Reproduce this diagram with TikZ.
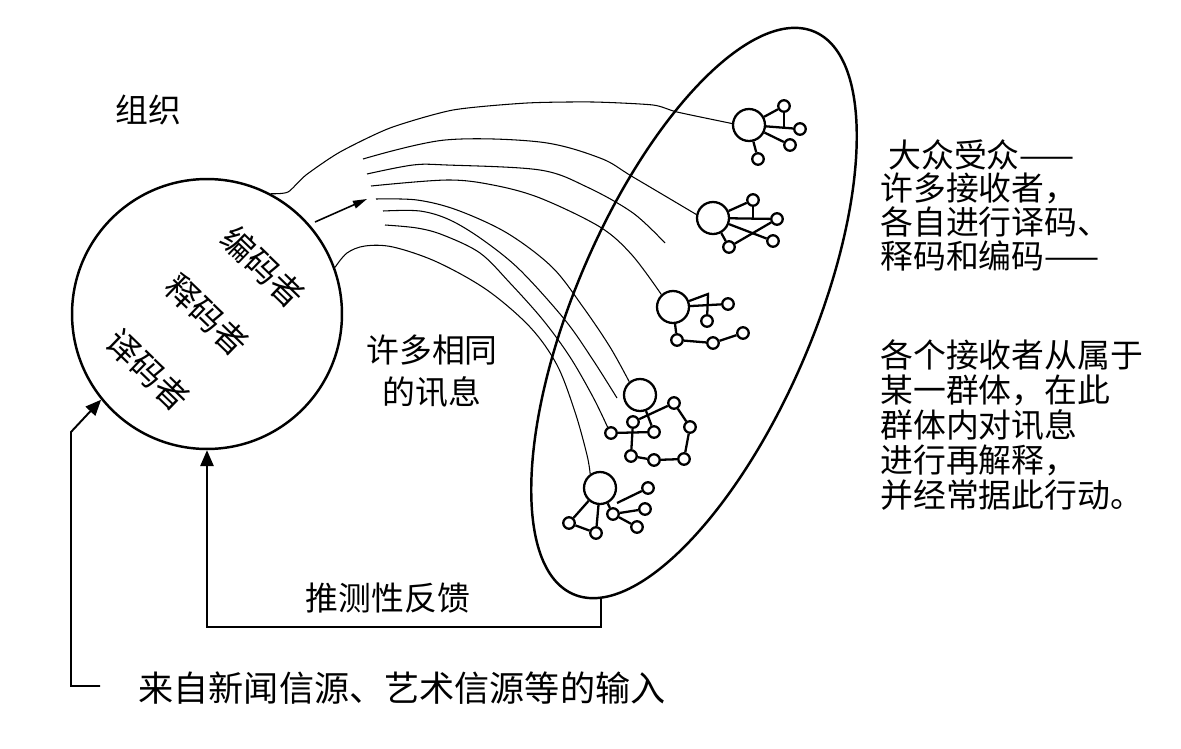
\documentclass[tikz,border=0pt]{standalone}
\usepackage{fontspec}
\setmainfont{Noto Sans CJK SC}
\usetikzlibrary{arrows.meta,calc}
\usetikzlibrary{positioning}

\begin{document}
\begin{tikzpicture}[x=0.02cm,y=-0.02cm,>={Triangle[length=9pt,width=7.5pt]},font=\fontsize{18.7}{22}\selectfont,
  hub/.style={circle,draw,line width=1.3pt,fill=white,inner sep=0pt,minimum size=0.64cm},
  member/.style={circle,draw,line width=1.3pt,fill=white,inner sep=0pt,minimum size=0.23cm},
  tie/.style={line width=1.3pt},
  msg/.style={line width=0.6pt},
  txt/.style={inner sep=0pt}]
\useasboundingbox (0,0) rectangle (1181,748);
% organisation
\node[circle,draw,line width=1.4pt,minimum size=5.4cm,inner sep=0pt] (org) at (207,314) {};
\node[txt,rotate=-44] (enc) at (263,267) {编码者};
\node[txt,rotate=-44] (intp) at (207,315) {释码者};
\node[txt,rotate=-44] (dec) at (148,370) {译码者};
\node[txt] (orgname) at (148,110) {组织};
% mass audience
\draw[line width=1.4pt,rotate around={66.8:(694,313)}] (694,313) ellipse [x radius=306,y radius=119];
% receivers and their groups
\foreach \n/\x/\y in {c1/749/125,c2/713/218,c3/673/307,c4/640/395,c5/600/488} \node[hub] (\n) at (\x,\y) {};
\foreach \n/\x/\y in {c1a/784/106,c1b/800/129,c1c/790/145,c1d/758/159,
  c2a/753/200,c2b/777/219,c2c/773/241,c2d/729/247,
  c3a/728/304,c3b/707/321,c3c/677/340,c3d/713/343,c3e/743/333,
  c4a/633/422,c4b/654/432,c4c/611/433,c4d/674/403,c4e/690/427,c4f/684/459,c4g/654/460,c4h/631/456,
  c5a/648/488,c5b/645/509,c5c/637/527,c5d/613/514,c5e/569/523,c5f/596/533} \node[member] (\n) at (\x,\y) {};
\foreach \a/\b in {c1/c1a,c1/c1b,c1/c1c,c1/c1d,c2/c2a,c2/c2b,c2/c2c,c2/c2d,c2d/c2b,c3/c3a,c3/c3c,c3c/c3d,c3d/c3e,
  c4/c4b,c4a/c4d,c4c/c4b,c4a/c4h,c4d/c4e,c4e/c4f,c4f/c4g,c4g/c4h,c5/c5e,c5e/c5f,c5/c5f,c5/c5d,c5d/c5b,c5d/c5c}
  \draw[tie] (\a) -- (\b);
\draw[tie] (c1a) -- (c1a |- c1b);
\draw[tie] (c2a) -- (c2a |- c2b);
\coordinate (c3peak) at (708,294);
\draw[tie] (c3) -- (c3peak) -- (c3b);
\coordinate (c5stub) at (617,503);
\draw[tie] (c5stub) -- (c5a);
% many identical messages
\coordinate (bFree) at (363,159); \coordinate (cFree) at (367,174); \coordinate (cEnd) at (665,243);
\coordinate (dFree) at (371,186); \coordinate (eFree) at (376,199); \coordinate (fFree) at (383,211);
\coordinate (fEnd) at (617,398); \coordinate (gFree) at (385,225);
\draw[msg] plot[smooth,tension=0.4] coordinates {(org.62) (288,192) (306,175) (340,152) (390,128) (453,110) (527,103) (593,102) (653,105) (677,112) (c1.175)};
\draw[msg] plot[smooth,tension=0.55] coordinates {(bFree) (445,140) (540,142) (600,158) (633,177) (c2.168)};
\draw[msg] plot[smooth,tension=0.55] coordinates {(cFree) (413,165) (447,165) (540,170) (587,187) (633,213) (cEnd)};
\draw[msg] plot[smooth,tension=0.55] coordinates {(dFree) (447,180) (493,185) (540,198) (600,227) (632,255) (c3.133)};
\draw[msg] plot[smooth,tension=0.55] coordinates {(eFree) (417,200) (457,210) (507,233) (552,267) (583,307) (610,347) (c4.129)};
\draw[msg] plot[smooth,tension=0.55] coordinates {(fFree) (420,211) (450,220) (483,240) (520,270) (565,320) (593,360) (fEnd)};
\draw[msg] plot[smooth,tension=0.55] coordinates {(gFree) (417,228) (443,235) (480,253) (510,283) (543,320) (570,357) (593,397) (c4c.120)};
\draw[msg] plot[smooth,tension=0.55] coordinates {(org.20) (347,253) (365,246) (393,247) (437,262) (487,290) (530,327) (557,365) (575,412) (587,455) (c5.125)};
\coordinate (flowTail) at (315,222); \coordinate (flowHead) at (367,199);
\draw[line width=0.9pt,-{Triangle[length=8pt,width=4.5pt]}] (flowTail) -- (flowHead);
\node[txt] (same1) at (432,350) {许多相同};
\node[txt] (same2) at (432,392) {的讯息};
% inferential feedback
\coordinate (audBase) at (601,597);
\draw[line width=1.1pt,->] (audBase) -- ++(0,30) -| (org.south);
\node[txt] (fb) at (388,598) {推测性反馈};
% input from news and art sources
\coordinate (srcEnd) at (100,686);
\draw[line width=1.1pt,->] (srcEnd) -- ++(-29,0) -- ++(0,-254) -- (org.219);
\node[txt,font=\fontsize{20}{24}\selectfont] (src) at (402,688) {来自新闻信源、艺术信源等的输入};
% audience description
\foreach \x/\y/\t in {888/155/大众受众——,880/188/许多接收者，,880/222/各自进行译码、,880/256/释码和编码——,
  880/355/各个接收者从属于,880/390/某一群体，在此,880/425/群体内对讯息,880/460/进行再解释，,880/495/并经常据此行动。}
  \node[txt,anchor=west] (aud\y) at (\x,\y) {\t};
\end{tikzpicture}
\end{document}
